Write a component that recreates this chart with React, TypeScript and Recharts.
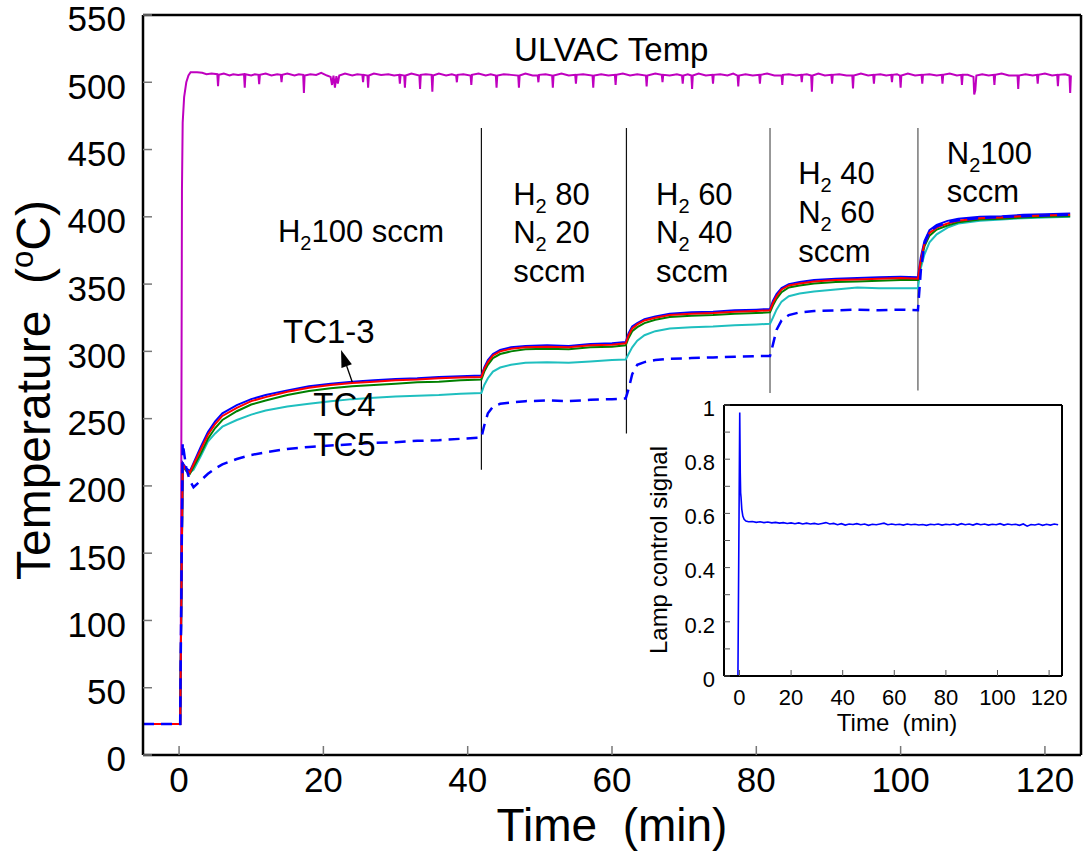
import React from "react";
import {
  ComposedChart,
  LineChart,
  Line,
  XAxis,
  YAxis,
  ReferenceLine,
  ReferenceDot,
} from "recharts";

const FONT = '"Liberation Sans", Arial, Helvetica, sans-serif';

// shared time grid for the thermocouple traces (min)
const tcTime = [
  -5, 0.15, 0.5, 1, 1.5, 2, 3, 4, 5, 6,
  8, 10, 12, 15, 18, 21, 24, 27, 30, 33,
  36, 39, 41.9, 42.3, 42.8, 43.5, 44.5, 46, 48, 51,
  54, 57, 60, 61.9, 62.3, 62.8, 63.5, 64.5, 66, 68,
  71, 74, 77, 80, 81.9, 82.3, 82.8, 83.5, 84.5, 86,
  88, 91, 94, 97, 100, 102.4, 102.8, 103.3, 104, 105,
  106.5, 108, 111, 114, 117, 120, 123.5,
];

// TC1 (blue)
const tc1 = [
  23, 23, 217, 213, 211, 217, 229, 240, 248, 254,
  260, 264.5, 267.5, 271, 274, 276, 277.5, 278.5, 279.5, 280,
  281, 281.5, 282, 288, 293.5, 298, 301, 303, 304, 304.5,
  304, 305.5, 306, 307, 313.5, 318.5, 321, 324, 326, 328,
  329, 329.5, 330.5, 331, 331.5, 337.5, 342.5, 347, 350, 351.5,
  353, 354, 354.5, 355, 355.5, 355, 370, 382, 390, 394,
  397, 398.5, 400, 400.5, 401.5, 402, 402.5,
];

// TC2 (red)
const tc2 = [
  23, 23, 216, 212, 210, 216, 227, 238, 246, 252,
  258, 263, 266, 270, 273, 275, 276.5, 277.5, 278.5, 279,
  280, 280.5, 281, 287, 292, 297, 300, 302, 303, 303.5,
  303, 304.5, 305, 306, 312, 317, 320, 323, 325, 327,
  328, 328.5, 329.5, 330, 330.5, 336, 341, 346, 349, 350.5,
  352, 353, 353.5, 354, 354.5, 354, 368, 380, 388, 392,
  395, 397, 399, 399.5, 400.5, 401, 401.5,
];

// TC3 (green)
const tc3 = [
  23, 23, 215, 211, 209, 214, 224, 235, 243, 249,
  255.5, 260.5, 263.5, 267.5, 270.5, 272.5, 274, 275, 276, 277,
  277.5, 278.5, 279, 285, 290, 295, 298, 300, 301.5, 302,
  301.5, 303, 303.5, 304.5, 310, 315, 318, 321, 323.5, 325.5,
  326.5, 327, 328, 328.5, 329, 334, 339, 344, 347.5, 349,
  350.5, 351.5, 352, 352.5, 353, 353, 366, 378, 386, 390.5,
  393.5, 396, 398, 398.5, 399.5, 400, 400.5,
];

// TC4 (cyan)
const tc4 = [
  23, 23, 214, 213, 210, 212, 222, 233, 239, 244,
  249, 253, 256, 259, 261, 263, 264.5, 265.5, 266.5, 267,
  267.5, 268.5, 269, 275, 280, 285, 288, 290, 291.5, 292,
  291.5, 292.5, 293.5, 294, 298, 303, 308, 312, 315, 317,
  318, 318.5, 319.5, 320, 320.5, 325, 331, 337, 341, 343,
  344.5, 346, 347.5, 347, 347, 347, 362, 372, 381, 387,
  392, 395, 397, 398, 399, 399.5, 400,
];

// TC5 (blue dashed)
const tc5 = [
  23, 23, 232, 213, 204, 199, 204, 209, 213, 216,
  220, 223, 225, 227.5, 229, 230, 231, 232, 232.5, 233.5,
  234, 235, 236, 245, 254, 259, 261, 262, 263, 263.5,
  263, 264, 264.5, 265, 272, 283, 290, 292, 293.5, 294.5,
  295, 295.5, 296, 296.5, 296.5, 305, 316, 323, 327, 329,
  330, 330.5, 331, 330.5, 331, 330.5, 360, 380, 389, 393,
  396, 397.5, 399, 400, 400.5, 401, 401.5,
];

// ULVAC controller temperature [min, degC]
const ulvac: [number, number][] = [
  [-5, 23], [0.2, 23], [0.3, 200], [0.4, 420], [0.5, 470], [0.7, 489], [1.0, 500],
  [1.3, 505], [1.6, 507.5], [2.5, 507.5], [3.2, 507], [3.8, 506], [4.5, 506.5],
  [5.3, 506], [5.4, 497], [5.5, 505.5], [6.2, 506.5], [7, 505], [7.5, 506], [8.2, 505.5],
  [9.0, 506], [9.1, 496], [9.2, 506], [10, 505], [10.5, 506],
  [11, 505.5], [11.1, 498.5], [11.2, 505.5], [12, 506.5], [12.8, 505], [13.6, 506],
  [14.1, 505.5], [14.2, 500], [14.3, 505.5], [15, 506.5], [16, 505], [16.6, 506],
  [17.2, 505.5], [17.3, 492], [17.4, 505], [18.2, 506], [19, 505.5], [19.7, 507], [20.5, 505],
  [21, 504], [21.2, 498], [21.4, 505], [21.6, 496], [21.8, 504.5], [22, 499], [22.2, 505],
  [23, 506.5], [24, 505], [24.7, 506],
  [25.4, 505.5], [25.5, 500], [25.6, 505.5], [26.1, 505], [26.2, 496], [26.3, 505],
  [27, 506.5], [28, 505.5], [29, 506], [29.8, 505],
  [30.5, 505.5], [30.6, 499], [30.7, 505.5], [31.2, 505], [31.3, 496], [31.4, 505],
  [32.2, 506.5], [33.3, 505], [33.4, 495], [33.5, 505.5], [34.2, 506],
  [35, 505.5], [35.1, 493], [35.2, 505], [36, 506.5], [37, 505], [37.8, 506],
  [38.4, 505], [38.5, 500], [38.6, 505.5], [39.4, 506],
  [40.4, 505], [40.5, 498], [40.6, 505.5], [41.5, 506.5], [42.5, 505], [43.2, 506],
  [43.9, 505], [44, 496], [44.1, 505], [45, 506], [46, 505.5],
  [47, 505], [47.1, 496], [47.2, 505], [48, 506.5], [49, 505],
  [49.7, 505], [49.8, 500], [49.9, 505.5], [50.8, 506],
  [51.7, 505], [51.8, 496], [51.9, 505], [53, 506.5], [54, 505],
  [54.9, 505.5], [55, 499], [55.1, 505.5], [56, 506],
  [57.3, 505], [57.4, 496], [57.5, 505], [58.5, 506], [59.5, 505],
  [60.4, 505.5], [60.5, 498], [60.6, 505.5], [61.5, 506.5], [62.5, 505], [63.5, 506],
  [64.7, 505], [64.8, 497], [64.9, 505], [66, 506.5],
  [66.9, 505.5], [67, 500], [67.1, 505.5], [68, 505], [69, 506],
  [69.7, 505], [69.8, 499], [69.9, 505], [70.5, 506],
  [71, 505], [71.1, 495], [71.2, 505], [72, 506.5], [73, 505],
  [73.9, 505.5], [74, 499], [74.1, 505.5], [75, 506], [76, 505], [76.8, 506.5],
  [77.4, 505], [77.5, 497], [77.6, 505], [78.5, 506], [79.5, 505],
  [80.4, 505.5], [80.5, 499], [80.6, 505.5], [81.5, 506.5], [82.5, 505],
  [83.5, 505], [83.6, 498], [83.7, 505.5], [84.5, 506], [85.5, 505],
  [86.2, 505.5], [86.3, 500], [86.4, 505.5], [87, 506],
  [87.6, 505], [87.7, 493], [87.8, 505], [88.6, 506.5], [89.5, 505],
  [90.4, 505.5], [90.5, 499], [90.6, 505.5], [91.5, 506], [92.5, 505],
  [93.3, 505], [93.4, 495.5], [93.5, 505], [94.5, 506.5], [95.5, 505],
  [96.2, 505.5], [96.3, 499], [96.4, 505.5], [97.2, 506], [98, 505],
  [98.7, 505.5], [98.8, 500], [98.9, 505.5], [99.5, 506],
  [99.9, 505], [100, 496], [100.1, 505], [101, 506.5], [102, 505],
  [102.9, 505.5], [103, 499], [103.1, 505.5], [104, 506], [105, 505],
  [105.7, 505.5], [105.8, 499], [105.9, 505.5], [106.8, 506.5], [107.8, 505],
  [108.4, 505.5], [108.5, 498], [108.6, 505.5], [109.3, 505.5],
  [110.1, 504], [110.2, 491], [110.35, 494], [110.5, 505], [111.3, 506], [112.2, 505],
  [112.9, 505.5], [113, 498], [113.1, 505.5], [114, 506.5], [115, 505],
  [116.2, 505], [116.3, 495], [116.4, 505], [117.3, 506], [118.3, 505],
  [118.9, 505.5], [119, 499], [119.1, 505.5], [120, 506.5], [121, 505],
  [121.7, 505.5], [121.8, 497], [121.9, 505.5], [122.8, 506],
  [123.4, 505], [123.5, 492], [123.6, 505],
];

// lamp control signal (inset) [min, signal]
const lamp: [number, number][] = [
  [-0.6, 0], [0.1, 0.972], [0.3, 0.75], [0.45, 0.675], [0.6, 0.66], [0.9, 0.615],
  [1.3, 0.59], [1.8, 0.578], [2.5, 0.572], [3.5, 0.569], [5, 0.57], [6.5, 0.567],
  [8, 0.569], [9.5, 0.566], [11, 0.568], [12.5, 0.565], [14, 0.567], [15.5, 0.564],
  [17, 0.566], [18.5, 0.563], [20, 0.565], [21.5, 0.562], [23, 0.565], [24.5, 0.561],
  [26, 0.564], [27.5, 0.561], [29, 0.563], [30.5, 0.56], [32, 0.563], [33.5, 0.566],
  [35, 0.561], [36.5, 0.563], [38, 0.558], [39.5, 0.562], [41, 0.557], [42.5, 0.561],
  [44, 0.559], [45.5, 0.562], [47, 0.558], [48.5, 0.561], [50, 0.556], [51.5, 0.56],
  [53, 0.558], [54.5, 0.561], [56, 0.564], [57.5, 0.558], [59, 0.561], [60.5, 0.558],
  [62, 0.56], [63.5, 0.557], [65, 0.561], [66.5, 0.558], [68, 0.56], [69.5, 0.557],
  [71, 0.559], [72.5, 0.556], [74, 0.56], [75.5, 0.558], [77, 0.561], [78.5, 0.557],
  [80, 0.56], [81.5, 0.558], [83, 0.561], [84.5, 0.557], [86, 0.562], [87.5, 0.558],
  [89, 0.561], [90.5, 0.557], [92, 0.562], [93.5, 0.558], [95, 0.561], [96.5, 0.557],
  [98, 0.56], [99.5, 0.558], [101, 0.562], [102.5, 0.557], [104, 0.561], [105.5, 0.558],
  [107, 0.56], [108.5, 0.556], [110, 0.561], [111.5, 0.553], [113, 0.559], [114.5, 0.557],
  [116, 0.561], [117.5, 0.556], [119, 0.56], [120.5, 0.557], [122, 0.561], [123.5, 0.558],
];

const timeTicks = [0, 20, 40, 60, 80, 100, 120];
const tempTicks = [0, 50, 100, 150, 200, 250, 300, 350, 400, 450, 500, 550];
const lampTicks = [0, 0.1, 0.2, 0.3, 0.4, 0.5, 0.6, 0.7, 0.8, 0.9, 1];

// gas switch instants (min) and lower end of the marker lines (degC)
const switchTimes = [41.9, 62, 81.9, 102.4];
const switchFloor = [212, 239, 269, 271];
const switchTop = 466;

const tcRows = tcTime.map((t, i) => ({
  t,
  tc1: tc1[i],
  tc2: tc2[i],
  tc3: tc3[i],
  tc4: tc4[i],
  tc5: tc5[i],
}));
const ulvacRows = ulvac.map(([t, v]) => ({ t, v }));
const lampRows = lamp.map(([t, v]) => ({ t, v }));

const Note = ({ cx, cy, size = 31, anchor = "start", children }: any) => (
  <text x={cx} y={cy} fontSize={size} fontFamily={FONT} textAnchor={anchor} fill="#000">
    {children}
  </text>
);

// element with subscript 2, e.g. H2 80
const gas = (el: string, rest: string) => [
  <tspan key="a">{el}</tspan>,
  <tspan key="b" dy={8} fontSize={20}>2</tspan>,
  <tspan key="c" dy={-8}>{rest}</tspan>,
];

const Arrow = (p: any) => {
  const { x1, y1, x2, y2 } = p;
  const dx = x2 - x1;
  const dy = y2 - y1;
  const len = Math.hypot(dx, dy) || 1;
  const ux = dx / len;
  const uy = dy / len;
  const bx = x2 - ux * 17;
  const by = y2 - uy * 17;
  const px = -uy * 5.5;
  const py = ux * 5.5;
  return (
    <g>
      <line x1={x1} y1={y1} x2={bx} y2={by} stroke="#000" strokeWidth={1.3} />
      <polygon points={`${x2},${y2} ${bx + px},${by + py} ${bx - px},${by - py}`} fill="#000" />
    </g>
  );
};

const note = (key: string, x: number, y: number, content: any, size = 31) => (
  <ReferenceDot
    key={key}
    xAxisId="b"
    yAxisId="l"
    x={x}
    y={y}
    r={1}
    shape={(p: any) => (
      <Note cx={p.cx} cy={p.cy} size={size}>
        {content}
      </Note>
    )}
  />
);

const lampLabel = (v: number) => {
  const k = Math.round(v * 10);
  if (k % 2 !== 0) return "";
  if (k === 0) return "0";
  if (k === 10) return "1";
  return v.toFixed(1);
};

export default function App() {
  const axisLine = { stroke: "#000", strokeWidth: 2.5 };
  const tickLine = { stroke: "#777", strokeWidth: 1.5 };
  const bigTick = { fontSize: 35, fill: "#000", fontFamily: FONT };

  return (
    <div
      style={{
        position: "absolute",
        left: 0,
        top: 0,
        width: 1091,
        height: 861,
        background: "#fff",
        fontFamily: FONT,
      }}
    >
      <ComposedChart
        width={1091}
        height={861}
        data={tcRows}
        margin={{ top: 14, right: 9, bottom: 11, left: 63 }}
      >
        <XAxis
          xAxisId="b"
          type="number"
          dataKey="t"
          domain={[-5, 125]}
          ticks={timeTicks}
          interval={0}
          allowDataOverflow
          height={95}
          tickSize={-9}
          tickMargin={21}
          tick={bigTick}
          axisLine={axisLine}
          tickLine={tickLine}
        />
        <XAxis
          xAxisId="top"
          orientation="top"
          type="number"
          dataKey="t"
          domain={[-5, 125]}
          ticks={timeTicks}
          interval={0}
          allowDataOverflow
          height={1}
          tickSize={-9}
          tick={false}
          axisLine={axisLine}
          tickLine={tickLine}
        />
        <YAxis
          yAxisId="l"
          type="number"
          domain={[0, 550]}
          ticks={tempTicks}
          interval={0}
          allowDataOverflow
          width={80}
          tickSize={-9}
          tickMargin={26}
          tick={{ ...bigTick, dy: 4 }}
          axisLine={axisLine}
          tickLine={tickLine}
        />
        <YAxis
          yAxisId="r"
          orientation="right"
          type="number"
          domain={[0, 550]}
          ticks={tempTicks}
          interval={0}
          allowDataOverflow
          width={1}
          tickSize={-9}
          tick={false}
          axisLine={axisLine}
          tickLine={tickLine}
        />

        {switchTimes.map((t, i) => (
          <ReferenceLine
            key={"sw" + i}
            xAxisId="b"
            yAxisId="l"
            segment={[
              { x: t, y: switchFloor[i] },
              { x: t, y: switchTop },
            ]}
            stroke={i < 2 ? "#111" : "#555"}
            strokeWidth={1.2}
          />
        ))}

        <Line
          xAxisId="b"
          yAxisId="l"
          data={ulvacRows}
          dataKey="v"
          stroke="#bf00bf"
          strokeWidth={2}
          dot={false}
          type="linear"
          isAnimationActive={false}
        />
        <Line xAxisId="b" yAxisId="l" dataKey="tc4" stroke="#1fbfbf" strokeWidth={2} dot={false} type="linear" isAnimationActive={false} />
        <Line xAxisId="b" yAxisId="l" dataKey="tc3" stroke="#008000" strokeWidth={2} dot={false} type="linear" isAnimationActive={false} />
        <Line xAxisId="b" yAxisId="l" dataKey="tc1" stroke="#0000ff" strokeWidth={2} dot={false} type="linear" isAnimationActive={false} />
        <Line xAxisId="b" yAxisId="l" dataKey="tc2" stroke="#ff0000" strokeWidth={2} dot={false} type="linear" isAnimationActive={false} />
        <Line
          xAxisId="b"
          yAxisId="l"
          dataKey="tc5"
          stroke="#0000ff"
          strokeWidth={2.5}
          strokeDasharray="11 7"
          dot={false}
          type="linear"
          isAnimationActive={false}
        />

        <ReferenceDot
          xAxisId="b"
          yAxisId="l"
          x={59.9}
          y={515.8}
          r={1}
          shape={(p: any) => (
            <Note cx={p.cx} cy={p.cy} size={33} anchor="middle">
              ULVAC Temp
            </Note>
          )}
        />
        {note("h100", 13.7, 381.3, gas("H", "100 sccm"))}
        {note("a1", 46.3, 408.8, gas("H", "\u00a080"))}
        {note("a2", 46.3, 380.5, gas("N", "\u00a020"))}
        {note("a3", 46.3, 351.5, "sccm")}
        {note("b1", 66.1, 408.8, gas("H", "\u00a060"))}
        {note("b2", 66.1, 380.5, gas("N", "\u00a040"))}
        {note("b3", 66.1, 351.5, "sccm")}
        {note("c1", 85.8, 424.2, gas("H", "\u00a040"))}
        {note("c2", 85.8, 395.2, gas("N", "\u00a060"))}
        {note("c3", 85.8, 366.6, "sccm")}
        {note("d1", 106.4, 439, gas("N", "100"))}
        {note("d2", 106.4, 411.2, "sccm")}
        {note("tc13", 14.4, 306.2, "TC1-3", 33)}
        {note("tc4", 18.6, 252, "TC4", 33)}
        {note("tc5", 18.6, 222.2, "TC5", 33)}
        <ReferenceLine
          xAxisId="b"
          yAxisId="l"
          segment={[
            { x: 24.0, y: 277.2 },
            { x: 22.45, y: 301 },
          ]}
          stroke="#000"
          shape={(p: any) => <Arrow {...p} />}
        />
      </ComposedChart>

      <div style={{ position: "absolute", left: 620, top: 395 }}>
        <LineChart width={460} height={345} margin={{ top: 9, right: 17, bottom: 14, left: 44 }}>
          <XAxis
            xAxisId="b"
            type="number"
            dataKey="t"
            domain={[-6, 125]}
            ticks={timeTicks}
            interval={0}
            allowDataOverflow
            height={50}
            tickSize={-6}
            tickMargin={19}
            tick={{ fontSize: 22, fill: "#000", fontFamily: FONT }}
            axisLine={{ stroke: "#000", strokeWidth: 2 }}
            tickLine={{ stroke: "#555", strokeWidth: 1 }}
          />
          <XAxis
            xAxisId="top"
            orientation="top"
            type="number"
            dataKey="t"
            domain={[-6, 125]}
            ticks={timeTicks}
            interval={0}
            allowDataOverflow
            height={1}
            tickSize={-6}
            tick={false}
            axisLine={{ stroke: "#000", strokeWidth: 2 }}
            tickLine={{ stroke: "#555", strokeWidth: 1 }}
          />
          <YAxis
            yAxisId="l"
            type="number"
            domain={[0, 1]}
            ticks={lampTicks}
            interval={0}
            allowDataOverflow
            width={60}
            tickSize={-6}
            tickMargin={15}
            tickFormatter={lampLabel}
            tick={{ fontSize: 22, fill: "#000", fontFamily: FONT, dy: 3 }}
            axisLine={{ stroke: "#000", strokeWidth: 2 }}
            tickLine={{ stroke: "#555", strokeWidth: 1 }}
          />
          <YAxis
            yAxisId="r"
            orientation="right"
            type="number"
            domain={[0, 1]}
            ticks={lampTicks}
            interval={0}
            allowDataOverflow
            width={1}
            tickSize={-6}
            tick={false}
            axisLine={{ stroke: "#000", strokeWidth: 2 }}
            tickLine={{ stroke: "#555", strokeWidth: 1 }}
          />
          <Line
            xAxisId="b"
            yAxisId="l"
            data={lampRows}
            dataKey="v"
            stroke="#0000ff"
            strokeWidth={1.6}
            dot={false}
            type="linear"
            isAnimationActive={false}
          />
        </LineChart>
      </div>

      <svg
        width={1091}
        height={861}
        style={{ position: "absolute", left: 0, top: 0, pointerEvents: "none" }}
      >
        <text x={612} y={841} fontSize={46} fontFamily={FONT} textAnchor="middle" fill="#000">
          {"Time\u00a0\u00a0(min)"}
        </text>
        <text
          transform="translate(50,390) rotate(-90)"
          fontSize={48}
          fontFamily={FONT}
          textAnchor="middle"
          fill="#000"
        >
          {"Temperature\u00a0\u00a0("}
          <tspan dy={-17} fontSize={31}>o</tspan>
          <tspan dy={17}>C)</tspan>
        </text>
        <text
          transform="translate(667,550) rotate(-90)"
          fontSize={24}
          fontFamily={FONT}
          textAnchor="middle"
          fill="#000"
        >
          Lamp control signal
        </text>
        <text x={897} y={731} fontSize={24} fontFamily={FONT} textAnchor="middle" fill="#000">
          {"Time\u00a0\u00a0(min)"}
        </text>
      </svg>
    </div>
  );
}
